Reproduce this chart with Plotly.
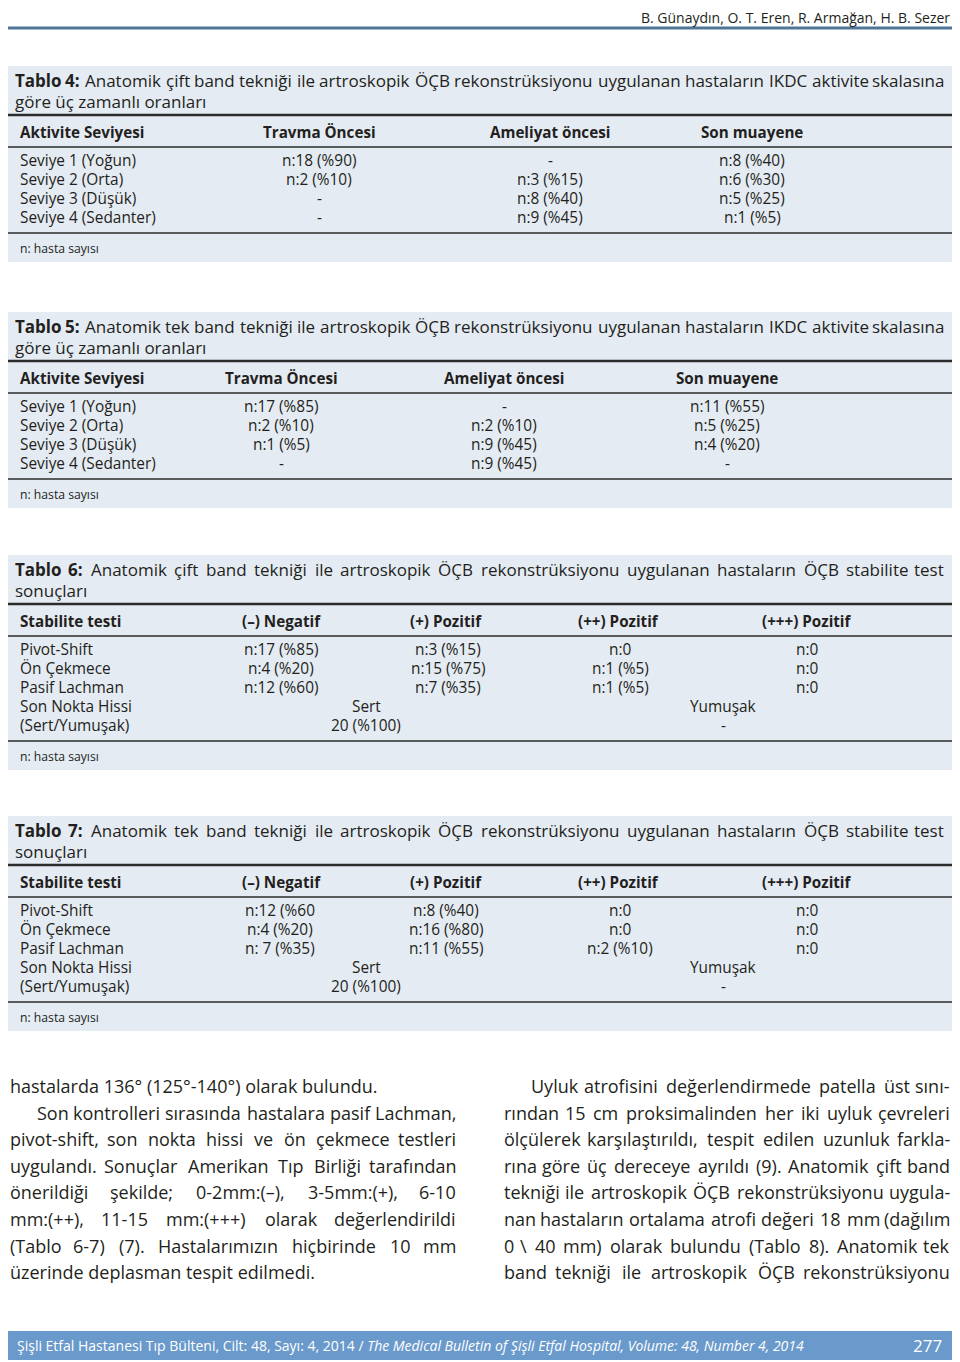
import plotly.graph_objects as go

# %% Daten

authors = "B. Günaydın, O. T. Eren, R. Armağan, H. B. Sezer"

t4_label = "Tablo 4:"
t4_title = ["Anatomik çift band tekniği ile artroskopik ÖÇB rekonstrüksiyonu uygulanan hastaların IKDC aktivite skalasına",
            "göre üç zamanlı oranları"]
t4_header = ["Aktivite Seviyesi", "Travma Öncesi", "Ameliyat öncesi", "Son muayene"]
t4_levels = ["Seviye 1 (Yoğun)", "Seviye 2 (Orta)", "Seviye 3 (Düşük)", "Seviye 4 (Sedanter)"]
t4_travma = ["n:18 (%90)", "n:2 (%10)", "-", "-"]
t4_ameliyat = ["-", "n:3 (%15)", "n:8 (%40)", "n:9 (%45)"]
t4_son = ["n:8 (%40)", "n:6 (%30)", "n:5 (%25)", "n:1 (%5)"]

t5_label = "Tablo 5:"
t5_title = ["Anatomik tek band tekniği ile artroskopik ÖÇB rekonstrüksiyonu uygulanan hastaların IKDC aktivite skalasına",
            "göre üç zamanlı oranları"]
t5_header = ["Aktivite Seviyesi", "Travma Öncesi", "Ameliyat öncesi", "Son muayene"]
t5_levels = ["Seviye 1 (Yoğun)", "Seviye 2 (Orta)", "Seviye 3 (Düşük)", "Seviye 4 (Sedanter)"]
t5_travma = ["n:17 (%85)", "n:2 (%10)", "n:1 (%5)", "-"]
t5_ameliyat = ["-", "n:2 (%10)", "n:9 (%45)", "n:9 (%45)"]
t5_son = ["n:11 (%55)", "n:5 (%25)", "n:4 (%20)", "-"]

t6_label = "Tablo 6:"
t6_title = ["Anatomik çift band tekniği ile artroskopik ÖÇB rekonstrüksiyonu uygulanan hastaların ÖÇB stabilite test",
            "sonuçları"]
t6_header = ["Stabilite testi", "(–) Negatif", "(+) Pozitif", "(++) Pozitif", "(+++) Pozitif"]
t6_tests = ["Pivot-Shift", "Ön Çekmece", "Pasif Lachman", "Son Nokta Hissi", "(Sert/Yumuşak)"]
t6_neg = ["n:17 (%85)", "n:4 (%20)", "n:12 (%60)"]
t6_pos1 = ["n:3 (%15)", "n:15 (%75)", "n:7 (%35)"]
t6_pos2 = ["n:0", "n:1 (%5)", "n:1 (%5)"]
t6_pos3 = ["n:0", "n:0", "n:0"]
t6_sert = ["Sert", "20 (%100)"]
t6_yumusak = ["Yumuşak", "-"]

t7_label = "Tablo 7:"
t7_title = ["Anatomik tek band tekniği ile artroskopik ÖÇB rekonstrüksiyonu uygulanan hastaların ÖÇB stabilite test",
            "sonuçları"]
t7_header = ["Stabilite testi", "(–) Negatif", "(+) Pozitif", "(++) Pozitif", "(+++) Pozitif"]
t7_tests = ["Pivot-Shift", "Ön Çekmece", "Pasif Lachman", "Son Nokta Hissi", "(Sert/Yumuşak)"]
t7_neg = ["n:12 (%60", "n:4 (%20)", "n: 7 (%35)"]
t7_pos1 = ["n:8 (%40)", "n:16 (%80)", "n:11 (%55)"]
t7_pos2 = ["n:0", "n:0", "n:2 (%10)"]
t7_pos3 = ["n:0", "n:0", "n:0"]
t7_sert = ["Sert", "20 (%100)"]
t7_yumusak = ["Yumuşak", "-"]

footnote = "n: hasta sayısı"

body_left = ["hastalarda 136° (125°-140°) olarak bulundu.",
             "Son kontrolleri sırasında hastalara pasif Lachman,",
             "pivot-shift, son nokta hissi ve ön çekmece testleri",
             "uygulandı. Sonuçlar Amerikan Tıp Birliği tarafından",
             "önerildiği şekilde; 0-2mm:(–), 3-5mm:(+), 6-10",
             "mm:(++), 11-15 mm:(+++) olarak değerlendirildi",
             "(Tablo 6-7) (7). Hastalarımızın hiçbirinde 10 mm",
             "üzerinde deplasman tespit edilmedi."]
body_right = ["Uyluk atrofisini değerlendirmede patella üst sını-",
              "rından 15 cm proksimalinden her iki uyluk çevreleri",
              "ölçülerek karşılaştırıldı, tespit edilen uzunluk farkla-",
              "rına göre üç dereceye ayrıldı (9). Anatomik çift band",
              "tekniği ile artroskopik ÖÇB rekonstrüksiyonu uygula-",
              "nan hastaların ortalama atrofi değeri 18 mm (dağılım",
              "0 \\ 40 mm) olarak bulundu (Tablo 8). Anatomik tek",
              "band tekniği ile artroskopik ÖÇB rekonstrüksiyonu"]

footer_text = "Şişli Etfal Hastanesi Tıp Bülteni, Cilt: 48, Sayı: 4, 2014 / <i>The Medical Bulletin of Şişli Etfal Hospital, Volume: 48, Number 4, 2014</i>"
page_no = "277"

# %% Layout

W, H = 960, 1362
PAD = 8  # body-margin der HTML-Seite
SANS = "Open Sans"
INK = "#231f20"
PANEL = "#e5ebf3"
FS_TITLE, FS_CELL, FS_HEAD, FS_NOTE, FS_BODY = 17, 15.4, 15.2, 12.2, 18

# grobe Zeichenbreiten (em) fuer Blocksatz
CW = {' ': 0.26, 'a': 0.556, 'b': 0.613, 'c': 0.476, 'd': 0.613, 'e': 0.561, 'f': 0.339, 'g': 0.548,
      'h': 0.614, 'i': 0.253, 'j': 0.253, 'k': 0.525, 'l': 0.253, 'm': 0.93, 'n': 0.614, 'o': 0.604,
      'p': 0.613, 'q': 0.613, 'r': 0.408, 's': 0.477, 't': 0.353, 'u': 0.614, 'v': 0.5, 'w': 0.778,
      'x': 0.524, 'y': 0.502, 'z': 0.463, 'ı': 0.253, 'ğ': 0.548, 'ş': 0.477, 'ç': 0.476, 'ö': 0.604,
      'ü': 0.614, 'A': 0.633, 'B': 0.656, 'C': 0.631, 'D': 0.735, 'E': 0.548, 'F': 0.503, 'G': 0.73,
      'H': 0.738, 'I': 0.295, 'K': 0.613, 'L': 0.511, 'M': 0.907, 'N': 0.765, 'O': 0.781, 'P': 0.605,
      'R': 0.619, 'S': 0.547, 'T': 0.555, 'U': 0.731, 'Y': 0.564, 'Ç': 0.631, 'Ö': 0.781, 'Ş': 0.547,
      ':': 0.266, '.': 0.266, ',': 0.245, ';': 0.266, '(': 0.291, ')': 0.291, '-': 0.322, '–': 0.5,
      '%': 0.828, '+': 0.572, '°': 0.418, '\\': 0.352}


def est(word, size):
    return sum(CW.get(ch, 0.572 if ch.isdigit() else 0.55) for ch in word) * size


fig = go.Figure()


def txt(x, y, s, size, anchor="left", color=INK):
    fig.add_annotation(x=x, y=y, xref="x", yref="y", text=s, showarrow=False,
                       xanchor=anchor, yanchor="middle",
                       font=dict(family=SANS, size=size, color=color))


def justify(words, x0, x1, y, size):
    # words: list of (text, bold)
    ws = [est(w, size) * (1.08 if b else 1.0) for w, b in words]
    gap = (x1 - x0 - sum(ws)) / (len(words) - 1)
    x = x0
    for i, ((w, b), wd) in enumerate(zip(words, ws)):
        s = "<b>" + w + "</b>" if b else w
        if i == 0:
            txt(x0, y, s, size, "left")
        elif i == len(words) - 1:
            txt(x1, y, s, size, "right")
        else:
            txt(x + wd / 2, y, s, size, "center")
        x += wd + gap


def hline(y, w, color="#2b2b2b", x0=7, x1=953):
    fig.add_shape(type="line", x0=x0, x1=x1, y0=y, y1=y, xref="x", yref="y",
                  line=dict(color=color, width=w))


def draw_table(top, label, title, header, header_x, labels, cells):
    # cells: list of (row, x, text)
    n = len(labels)
    last_row = top + 94 + (n - 1) * 19
    fig.add_shape(type="rect", x0=7, x1=953, y0=top, y1=last_row + 45,
                  xref="x", yref="y", fillcolor=PANEL, line=dict(width=0), layer="below")
    words = [(w, True) for w in label.split(" ")] + [(w, False) for w in title[0].split(" ")]
    justify(words, 13, 946, top + 14, FS_TITLE)
    txt(13, top + 35, title[1], FS_TITLE)
    hline(top + 49, 2.5)
    for i, h in enumerate(header):
        txt(header_x[i], top + 66, "<b>" + h + "</b>", FS_HEAD, "left" if i == 0 else "center")
    hline(top + 81, 1.5)
    for r, lab in enumerate(labels):
        txt(18, top + 94 + r * 19, lab, FS_CELL)
    for r, x, s in cells:
        txt(x, top + 94 + r * 19, s, FS_CELL, "center")
    hline(last_row + 16, 1.5)
    txt(18, last_row + 31, footnote, FS_NOTE)


def activity_cells(cols, xs):
    return [(r, xs[c], v) for c, col in enumerate(cols) for r, v in enumerate(col)]


def stability_cells(cols, xs, sert, yumusak, merged_x):
    cells = [(r, xs[c], v) for c, col in enumerate(cols) for r, v in enumerate(col)]
    for k in range(2):
        cells.append((3 + k, merged_x[0], sert[k]))
        cells.append((3 + k, merged_x[1], yumusak[k]))
    return cells


# Kopfzeile (Seitenrand oben: Text muss unterhalb y=8 beginnen)
txt(952, 17.8, authors, 14, "right")
hline(28, 3, color="#4f7698", x0=4, x1=955)

draw_table(66, t4_label, t4_title, t4_header, [18, 319, 550, 752], t4_levels,
           activity_cells([t4_travma, t4_ameliyat, t4_son], [319, 550, 752]))
draw_table(312, t5_label, t5_title, t5_header, [18, 281, 504, 727], t5_levels,
           activity_cells([t5_travma, t5_ameliyat, t5_son], [281, 504, 727]))
draw_table(555, t6_label, t6_title, t6_header, [18, 281, 446, 618, 807], t6_tests,
           stability_cells([t6_neg, t6_pos1, t6_pos2, t6_pos3], [281, 448, 620, 807],
                           t6_sert, t6_yumusak, [366, 723]))
draw_table(816, t7_label, t7_title, t7_header, [18, 281, 446, 618, 807], t7_tests,
           stability_cells([t7_neg, t7_pos1, t7_pos2, t7_pos3], [280, 446, 620, 807],
                           t7_sert, t7_yumusak, [366, 723]))

# Fliesstext (Blocksatz ausser Absatzende)
for i, line in enumerate(body_left):
    y = 1086 + i * 26.6
    x0 = 35 if i == 1 else 8
    if i in (0, len(body_left) - 1):
        txt(x0, y, line, FS_BODY)
    else:
        justify([(w, False) for w in line.split(" ")], x0, 458, y, FS_BODY)
for i, line in enumerate(body_right):
    y = 1086 + i * 26.6
    x0 = 529 if i == 0 else 502
    justify([(w, False) for w in line.split(" ")], x0, 952, y, FS_BODY)

# Fusszeile
fig.add_shape(type="rect", x0=7, x1=953, y0=1331, y1=1360, xref="x", yref="y",
              fillcolor="#6a9acb", line=dict(width=0), layer="below")
txt(15, 1345, footer_text, 14, color="white")
txt(944, 1345, page_no, 17, "right", color="white")

fig.update_xaxes(range=[PAD, W], visible=False, fixedrange=True)
fig.update_yaxes(range=[H, PAD], visible=False, fixedrange=True)
fig.update_layout(width=W - PAD, height=H - PAD, margin=dict(l=0, r=0, t=0, b=0),
                  paper_bgcolor="white", plot_bgcolor="white", showlegend=False)

fig.write_html("out.html")
